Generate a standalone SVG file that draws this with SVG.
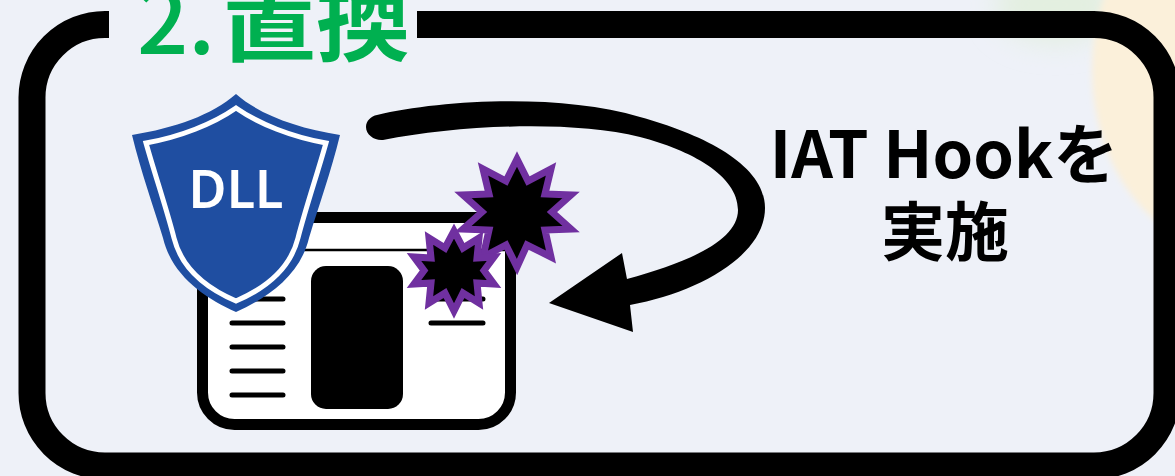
<svg xmlns="http://www.w3.org/2000/svg" width="1175" height="476" viewBox="0 0 1175 476">
<defs>
<filter id="soft" x="-30%" y="-30%" width="160%" height="160%"><feGaussianBlur stdDeviation="3"/></filter>
<filter id="softer" x="-50%" y="-50%" width="200%" height="200%"><feGaussianBlur stdDeviation="14"/></filter>
</defs>
<style>
.cjk{font-family:"Noto Sans CJK JP","Noto Sans",sans-serif;font-weight:700}
.star{fill:#000;stroke:#7030a0;stroke-width:7;stroke-miterlimit:12}
.row{stroke:#000;stroke-width:5;stroke-linecap:round;fill:none}
</style>
<rect width="1175" height="476" fill="#eef1f8"/>
<g id="background">
<ellipse cx="1055" cy="5" rx="60" ry="38" fill="#e3efe0" filter="url(#softer)"/>
<ellipse cx="1232" cy="70" rx="140" ry="180" fill="#fbf0da" filter="url(#soft)"/>
</g>
<g id="frame">
<path d="M109 24.500H105A73 73 0 0 0 32 97.500V393A73 73 0 0 0 105 466H1094A73 73 0 0 0 1167 393V97.500A73 73 0 0 0 1094 24.500H417" fill="none" stroke="#000" stroke-width="27"/>
</g>
<g id="title"><text class="cjk" y="54" fill="#00b050"><tspan x="137" font-size="90" font-weight="500">2.</tspan><tspan x="222" font-size="94">置換</tspan></text></g>
<g id="browser">
<rect x="202.500" y="217.500" width="308" height="207" rx="32" fill="#fff" stroke="#000" stroke-width="11"/>
<path d="M205 250H508" stroke="#000" stroke-width="2.500"/>
<rect x="311" y="266" width="92" height="143" rx="15" fill="#000"/>
<path class="row" d="M232 299H283M232 323H283M232 347H283M232 371H283M232 395H283M431 299H483M431 323H483"/>
</g>
<g id="dll">
<path d="M236 94C212 115 175 128 132 135C141 172 153 205 163 238C172 276 205 298 236 312C267 298 300 276 309 238C319 205 331 172 340 135C297 128 260 115 236 94Z" fill="#1f4ea1"/>
<path d="M236 108C213 124 180 137 146 143C155 175 166 207 174 238C182 270 208 289 236 301C264 289 290 270 298 238C306 207 317 175 326 143C292 137 259 124 236 108Z" fill="none" stroke="#fff" stroke-width="5"/>
<text x="236" y="208" font-size="52" font-weight="600" fill="#fff" text-anchor="middle" style="font-family:'Noto Sans',sans-serif">DLL</text>
</g>
<g id="burst-large">
<polygon class="star" points="517,159 528,181 551,169 545,194 571,195 552,212 571,229 545,230 551,257 527,245 517,267 506,245 483,257 489,230 463,229 482,212 463,195 489,194 483,169 506,181"/>
</g>
<g id="burst-small">
<polygon class="star" points="454,231 463,248 479,238 477,258 494,257 484,270.500 494,284 477,283 479,303 463,293 454,311 445,293 429,303 431,283 414,284 424,270.500 414,257 431,258 429,238 445,248"/>
</g>
<g id="connectors">
<path d="M377 115C440 100 560 93 640 117C705 135 765 165 765 208C765 255 700 292 630 305L633 332L549 303L622 253L627 279C690 262 738 240 738 210C738 175 690 150 640 137C570 120 460 125 383 140C375 141 366 135 366 127C366 121 371 116 377 115Z" fill="#000"/>
</g>
<g id="label">
<text class="cjk" x="944" y="178" font-size="65" text-anchor="middle" fill="#000">IAT Hookを</text>
<text class="cjk" x="945" y="255" font-size="64" text-anchor="middle" fill="#000">実施</text>
</g>
</svg>
